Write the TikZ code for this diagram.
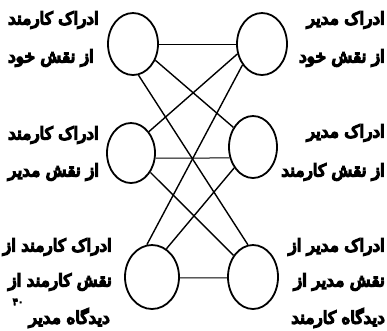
\documentclass[tikz,border=0pt]{standalone}
\usepackage{fontspec}
\usetikzlibrary{shapes.geometric}
\TeXXeTstate=1
\newfontfamily\fa[Script=Arabic, FakeBold=9]{DejaVu Sans}
\begin{document}
\begin{tikzpicture}[x=1pt,y=-1pt,
  role/.style={draw, ellipse, line width=1.8pt, inner sep=0pt, minimum width=50pt, minimum height=62pt},
  link/.style={line width=1.4pt},
  flat/.style={line width=1pt},
  lbl/.style={inner sep=0pt, font=\fa\fontsize{17}{17}\selectfont},
  sup/.style={inner sep=0pt, font=\fa\fontsize{10}{10}\selectfont}]
\useasboundingbox (0,0) rectangle (387,330);
% circles
\node[role] (TL) at (133,44) {};
\node[role] (TR) at (262,44) {};
\node[role, minimum width=48pt, minimum height=60pt] (ML) at (131,153) {};
\node[role, minimum width=48pt, minimum height=62pt] (MR) at (253,147) {};
\node[role, minimum width=54pt, minimum height=64pt] (BL) at (152,277) {};
\node[role, minimum width=50pt, minimum height=64pt] (BR) at (253,277) {};
% connectors
\draw[flat] (TL.0) -- (TR.180);
\draw[flat] (ML.-12) -- (MR.205);
\draw[flat] (BL.-2) -- (BR.182);
\draw[link] (TL.-36) -- (MR.135);
\draw[link] (TL.-80) -- (BR.99);
\draw[link] (TR.-158) -- (ML.50);
\draw[link] (TR.-133) -- (BL.99);
\draw[link] (ML.-45) -- (BR.132);
\draw[link] (MR.-132) -- (BL.63);
% left labels
\node[lbl, anchor=west] (l1a) at (8,20) {\beginR ادراک کارمند\endR};
\node[lbl, anchor=west] (l1b) at (8,58) {\beginR از نقش خود\endR};
\node[lbl, anchor=west] (l2a) at (8,135) {\beginR ادراک کارمند\endR};
\node[lbl, anchor=west] (l2b) at (8,172) {\beginR از نقش مدیر\endR};
\node[lbl, anchor=east] (l3a) at (112,247) {\beginR ادراک کارمند از\endR};
\node[lbl, anchor=east] (l3b) at (112,282) {\beginR نقش کارمند از\endR};
\node[lbl, anchor=east] (l3c) at (110,318) {\beginR دیدگاه مدیر\endR};
\node[sup] (fn) at (18,302) {۴۰};
% right labels
\node[lbl, anchor=east] (r1a) at (385,20) {\beginR ادراک مدیر\endR};
\node[lbl, anchor=east] (r1b) at (385,58) {\beginR از نقش خود\endR};
\node[lbl, anchor=east] (r2a) at (385,133) {\beginR ادراک مدیر\endR};
\node[lbl, anchor=east] (r2b) at (385,172) {\beginR از نقش کارمند\endR};
\node[lbl, anchor=east] (r3a) at (385,247) {\beginR ادراک مدیر از\endR};
\node[lbl, anchor=east] (r3b) at (385,282) {\beginR نقش مدیر از\endR};
\node[lbl, anchor=east] (r3c) at (385,318) {\beginR دیدگاه کارمند\endR};
\end{tikzpicture}
\end{document}
